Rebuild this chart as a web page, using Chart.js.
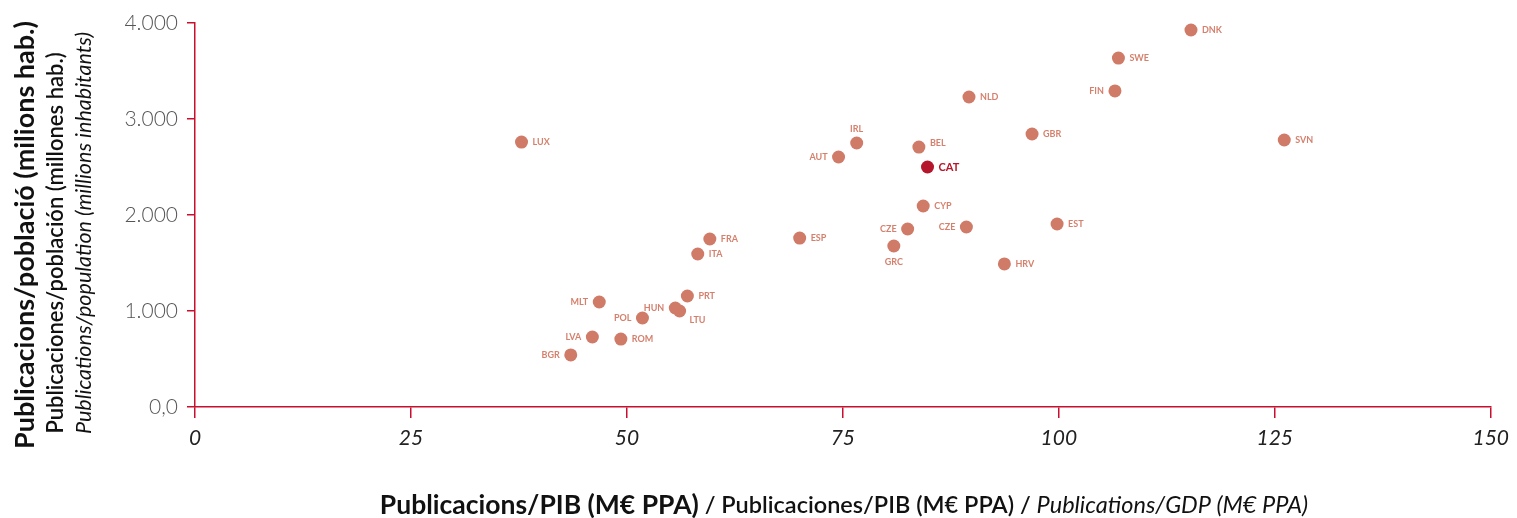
<!DOCTYPE html>
<html>
<head>
<meta charset="utf-8">
<script src="https://cdn.jsdelivr.net/npm/chart.js@4/dist/chart.umd.min.js"></script>
<style>
	html, body { margin: 0; padding: 0; background: #fff; }
	#wrap { width: 1517px; height: 518px; }
</style>
</head>
<body>
<div id="wrap"><canvas id="myChart"></canvas></div>
<script>
// data
const countries = ['LUX', 'BGR', 'LVA', 'ROM', 'MLT', 'POL', 'HUN', 'LTU', 'PRT', 'ITA', 'FRA', 'ESP', 'AUT', 'IRL', 'GRC', 'CZE', 'CYP', 'BEL', 'CAT', 'CZE', 'NLD', 'HRV', 'GBR', 'EST', 'FIN', 'SWE', 'DNK', 'SVN'];
const pubPerGdp = [37.8, 43.5, 46.0, 49.3, 46.8, 51.8, 55.6, 56.1, 57.0, 58.2, 59.6, 70.0, 74.5, 76.6, 80.9, 82.5, 84.3, 83.8, 84.8, 89.3, 89.6, 93.7, 96.9, 99.8, 106.5, 106.9, 115.3, 126.1];
const pubPerPop = [2760, 542, 729, 708, 1094, 927, 1031, 1000, 1156, 1594, 1750, 1760, 2604, 2750, 1677, 1854, 2094, 2708, 2500, 1875, 3229, 1490, 2844, 1906, 3292, 3635, 3927, 2781];
const xTicks = [0, 25, 50, 75, 100, 125, 150];
const yTicks = [0, 1000, 2000, 3000, 4000];

// where each label sits relative to its dot
const labelSide = ['r', 'l', 'l', 'r', 'l', 'l', 'l', 'rb', 'r', 'r', 'r', 'r', 'l', 't', 'b', 'l', 'r', 'rt', 'r', 'l', 'r', 'r', 'r', 'r', 'l', 'r', 'r', 'r'];

const dotColor = '#d07a68';
const catColor = '#b5162b';
const axisColor = '#c8102e';

let points = countries.map((c, i) => ({ x: pubPerGdp[i], y: pubPerPop[i] }));

const labelPlugin = {
	id: 'dotLabels',
	afterDatasetsDraw(chart) {
		const ctx = chart.ctx;
		const meta = chart.getDatasetMeta(0);
		ctx.save();
		meta.data.forEach((pt, i) => {
			const isCat = countries[i] === 'CAT';
			ctx.font = isCat ? 'bold 11px Lato' : 'bold 9px Lato';
			ctx.fillStyle = isCat ? catColor : '#d5806d';
			ctx.textBaseline = 'middle';
			let x = pt.x, y = pt.y;
			switch (labelSide[i]) {
				case 'l': ctx.textAlign = 'right'; x -= 11; break;
				case 't': ctx.textAlign = 'center'; y -= 14; break;
				case 'b': ctx.textAlign = 'center'; y += 16; break;
				case 'rb': ctx.textAlign = 'left'; x += 10; y += 9; break;
				case 'rt': ctx.textAlign = 'left'; x += 11; y -= 4; break;
				default: ctx.textAlign = 'left'; x += 11;
			}
			ctx.fillText(countries[i], x, y);
		});
		ctx.restore();
	}
};

const titlePlugin = {
	id: 'axisTitles',
	afterDraw(chart) {
		const ctx = chart.ctx;
		ctx.save();
		ctx.fillStyle = '#111';
		ctx.textBaseline = 'middle';
		ctx.textAlign = 'center';
		// y title, three lines
		ctx.translate(0, 235);
		ctx.rotate(-Math.PI / 2);
		ctx.font = 'bold 27px Lato';
		ctx.fillText('Publicacions/població (milions hab.)', 0, 25);
		ctx.font = '600 22px Lato';
		ctx.fillText('Publicaciones/población (millones hab.)', -8, 56);
		ctx.font = 'italic 21.5px Lato';
		ctx.fillText('Publications/population (millions inhabitants)', 2, 84);
		ctx.restore();

		// x title, mixed fonts on one line
		ctx.save();
		ctx.fillStyle = '#111';
		ctx.textBaseline = 'middle';
		ctx.textAlign = 'left';
		const parts = [
			['bold 26.5px Lato', 'Publicacions/PIB (M€ PPA)'],
			['600 23.5px Lato', ' / Publicaciones/PIB (M€ PPA) / '],
			['italic 23.5px Lato', 'Publications/GDP (M€ PPA)']
		];
		let total = 0;
		parts.forEach(p => { ctx.font = p[0]; total += ctx.measureText(p[1]).width; });
		let x = 844 - total / 2;
		parts.forEach(p => {
			ctx.font = p[0];
			ctx.fillText(p[1], x, 505);
			x += ctx.measureText(p[1]).width;
		});
		ctx.restore();
	}
};

const ctx = document.getElementById('myChart');
const myChart = new Chart(ctx, {
	type: 'scatter',
	data: {
		datasets: [{
			data: points,
			pointRadius: 6.5,
			pointHoverRadius: 6.5,
			pointBorderWidth: 0,
			pointBackgroundColor: countries.map(c => c === 'CAT' ? catColor : dotColor)
		}]
	},
	options: {
		responsive: true,
		maintainAspectRatio: false,
		animation: false,
		layout: { padding: { top: 23, right: 25, left: 0, bottom: 0 } },
		plugins: {
			legend: { display: false },
			tooltip: { enabled: false }
		},
		scales: {
			x: {
				type: 'linear',
				min: 0,
				max: 150,
				afterBuildTicks: scale => { scale.ticks = xTicks.map(v => ({ value: v })); },
				afterFit: scale => { scale.height = 111; },
				border: { color: axisColor, width: 1.5 },
				grid: { drawOnChartArea: false, color: axisColor, tickLength: 11, lineWidth: 1.5 },
				ticks: {
					color: '#222',
					padding: 8,
					font: { family: 'Lato', size: 21, style: 'italic' }
				}
			},
			y: {
				type: 'linear',
				min: 0,
				max: 4000,
				afterBuildTicks: scale => { scale.ticks = yTicks.map(v => ({ value: v })); },
				afterFit: scale => { scale.width = 195; },
				border: { color: axisColor, width: 1.5 },
				grid: { drawOnChartArea: false, color: axisColor, tickLength: 8, lineWidth: 1.5 },
				ticks: {
					color: '#555',
					padding: 9,
					font: { family: 'Lato', size: 21, weight: '300' },
					callback: v => v === 0 ? '0,0' : (v / 1000) + '.000'
				}
			}
		}
	},
	plugins: [labelPlugin, titlePlugin]
});
</script>
</body>
</html>
